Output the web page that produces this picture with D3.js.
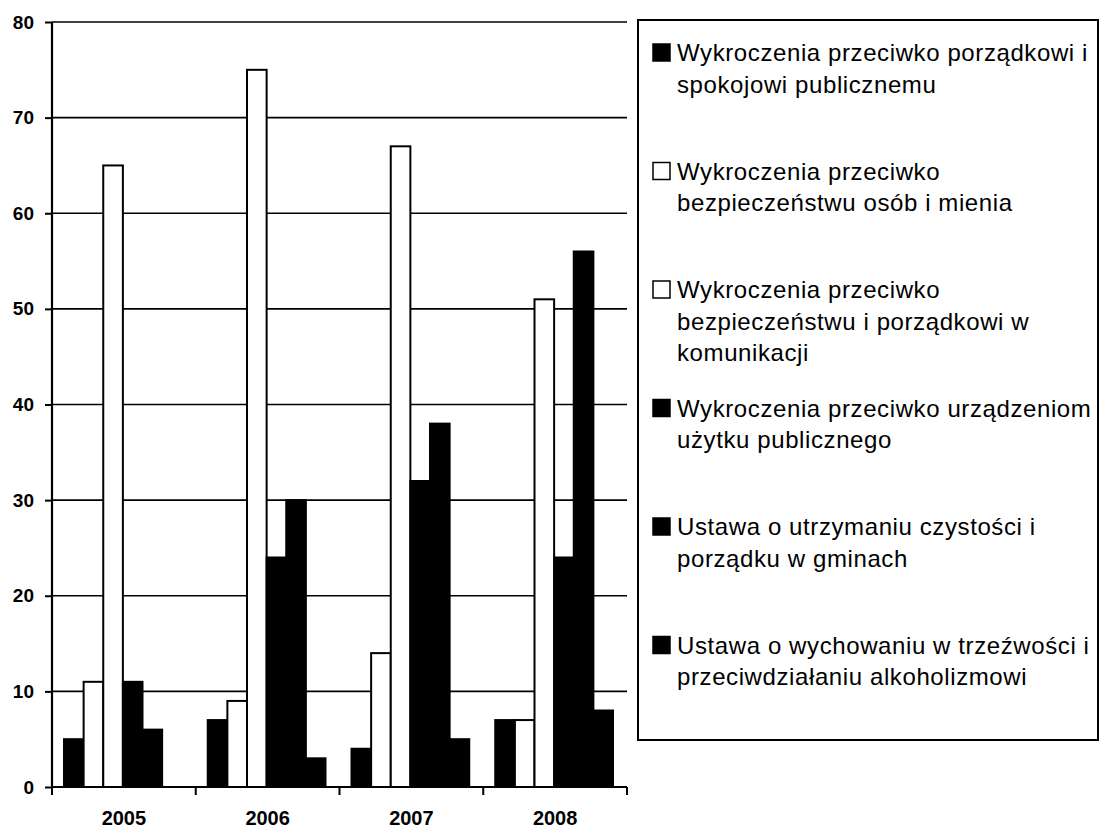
<!DOCTYPE html>
<html>
<head>
<meta charset="utf-8">
<script src="https://cdn.jsdelivr.net/npm/d3@7"></script>
<style>
  body { margin: 0; background: #fff; }
  svg { display: block; font-family: "Liberation Sans", Arial, sans-serif; }
</style>
</head>
<body>
<div id="chart"></div>
<script>
// Chart data
var years = ["2005", "2006", "2007", "2008"];
var seriesNames = [
  "Wykroczenia przeciwko porządkowi i|spokojowi publicznemu",
  "Wykroczenia przeciwko|bezpieczeństwu osób i mienia",
  "Wykroczenia przeciwko|bezpieczeństwu i porządkowi w|komunikacji",
  "Wykroczenia przeciwko urządzeniom|użytku publicznego",
  "Ustawa o utrzymaniu czystości i|porządku w gminach",
  "Ustawa o wychowaniu w trzeźwości i|przeciwdziałaniu alkoholizmowi"
];
var seriesFill = ["#000", "#fff", "#fff", "#000", "#000", "#000"];
var values2005 = [5, 11, 65, 11, 6, 0];
var values2006 = [7, 9, 75, 24, 30, 3];
var values2007 = [4, 14, 67, 32, 38, 5];
var values2008 = [7, 7, 51, 24, 56, 8];
var yTicks = [0, 10, 20, 30, 40, 50, 60, 70, 80];

var valuesByYear = [values2005, values2006, values2007, values2008];

var svgWidth = 1100;
var svgHeight = 828;

var chartMargin = { top: 22, left: 52 };
var width = 575;
var height = 765;

var svg = d3.select("#chart")
  .append("svg")
  .attr("width", svgWidth)
  .attr("height", svgHeight);

var chartGroup = svg.append("g")
  .attr("transform", `translate(${chartMargin.left}, ${chartMargin.top})`);

// scales
var x0 = d3.scaleBand()
  .domain(years)
  .range([0, width])
  .paddingInner(0)
  .paddingOuter(0);

var x1 = d3.scaleBand()
  .domain(d3.range(seriesNames.length))
  .range([12, x0.bandwidth() - 14]);

var y = d3.scaleLinear()
  .domain([0, 80])
  .range([height, 0]);

// gridlines
chartGroup.selectAll(".grid")
  .data(yTicks.slice(1))
  .enter()
  .append("line")
  .attr("x1", 0)
  .attr("x2", width)
  .attr("y1", d => y(d))
  .attr("y2", d => y(d))
  .attr("stroke", "#000")
  .attr("stroke-width", 1.6);

// bars
var groups = chartGroup.selectAll(".year")
  .data(years)
  .enter()
  .append("g")
  .attr("transform", d => `translate(${x0(d)},0)`);

groups.selectAll("rect")
  .data((d, i) => valuesByYear[i].map((v, j) => ({ v: v, s: j })))
  .enter()
  .filter(d => d.v > 0)
  .append("rect")
  .attr("x", d => x1(d.s))
  .attr("y", d => y(d.v))
  .attr("width", x1.bandwidth())
  .attr("height", d => y(0) - y(d.v))
  .attr("fill", d => seriesFill[d.s])
  .attr("stroke", "#000")
  .attr("stroke-width", 2);

// y axis
var axisLeft = d3.axisLeft(y)
  .tickValues(yTicks)
  .tickSize(7)
  .tickPadding(11);

var yAxis = chartGroup.append("g")
  .call(axisLeft);
yAxis.select(".domain").attr("stroke-width", 2.2).attr("d", `M0,${height}V0`);
yAxis.selectAll(".tick line").attr("stroke-width", 2);
yAxis.selectAll("text")
  .attr("font-size", 19)
  .attr("font-weight", "bold")
  .attr("font-family", "Liberation Sans, Arial, sans-serif")
  .attr("fill", "#000");

// x axis
var axisBottom = d3.axisBottom(x0)
  .tickSize(0);

var xAxis = chartGroup.append("g")
  .attr("transform", `translate(0, ${height})`)
  .call(axisBottom);
xAxis.select(".domain").attr("stroke-width", 2.2).attr("d", `M0,0H${width}`);
xAxis.selectAll("text")
  .attr("y", 38)
  .attr("dy", 0)
  .attr("font-size", 20)
  .attr("font-weight", "bold")
  .attr("font-family", "Liberation Sans, Arial, sans-serif")
  .attr("fill", "#000");

// category boundary ticks
xAxis.selectAll(".bound")
  .data(years.concat(["end"]))
  .enter()
  .append("line")
  .attr("x1", (d, i) => i < years.length ? x0(d) : width)
  .attr("x2", (d, i) => i < years.length ? x0(d) : width)
  .attr("y1", 0)
  .attr("y2", 8)
  .attr("stroke", "#000")
  .attr("stroke-width", 2);

// legend
var legend = svg.append("g");
legend.append("rect")
  .attr("x", 638)
  .attr("y", 20)
  .attr("width", 460)
  .attr("height", 720)
  .attr("fill", "none")
  .attr("stroke", "#000")
  .attr("stroke-width", 2);

var legendItems = legend.selectAll(".item")
  .data(seriesNames)
  .enter()
  .append("g")
  .attr("transform", (d, i) => `translate(653, ${61 + i * 118.5})`);

legendItems.append("rect")
  .attr("x", 0)
  .attr("y", -17)
  .attr("width", 17)
  .attr("height", 17)
  .attr("fill", (d, i) => seriesFill[i])
  .attr("stroke", "#000")
  .attr("stroke-width", 1.5);

legendItems.append("text")
  .attr("x", 24)
  .attr("y", 0)
  .attr("font-size", 24)
  .attr("letter-spacing", 0.6)
  .attr("fill", "#000")
  .selectAll("tspan")
  .data(d => d.split("|"))
  .enter()
  .append("tspan")
  .attr("x", 24)
  .attr("dy", (d, i) => i === 0 ? 0 : 31.5)
  .text(d => d);
</script>
</body>
</html>
